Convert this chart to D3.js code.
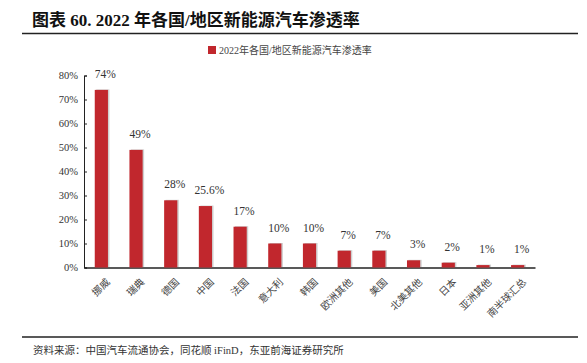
<!DOCTYPE html>
<html>
<head>
<meta charset="utf-8">
<script src="https://cdn.jsdelivr.net/npm/d3@7"></script>
<style>
  body { margin: 0; background: #fff; }
  svg { display: block; font-family: "Liberation Serif", "Noto Sans CJK SC", serif; }
</style>
</head>
<body>
<div id="chart"></div>
<script>
// 数据
const regions = ["挪威", "瑞典", "德国", "中国", "法国", "意大利", "韩国", "欧洲其他", "美国", "北美其他", "日本", "亚洲其他", "南半球汇总"];
const penetration = [74, 49, 28, 25.6, 17, 10, 10, 7, 7, 3, 2, 1, 1];
const valueLabels = ["74%", "49%", "28%", "25.6%", "17%", "10%", "10%", "7%", "7%", "3%", "2%", "1%", "1%"];
const yTicks = [0, 10, 20, 30, 40, 50, 60, 70, 80];

const W = 587, H = 363;
const red = "#c1272d";

const svg = d3.select("#chart").append("svg")
    .attr("width", W)
    .attr("height", H);

// 标题
svg.append("text")
    .attr("x", 32).attr("y", 26)
    .attr("font-size", 17).attr("font-weight", "bold")
    .attr("fill", "#111")
    .text("图表 60. 2022 年各国/地区新能源汽车渗透率");

svg.append("line")
    .attr("x1", 22).attr("x2", 578).attr("y1", 33.5).attr("y2", 33.5)
    .attr("stroke", "#222").attr("stroke-width", 1.5);

// 图例
svg.append("rect")
    .attr("x", 208).attr("y", 46).attr("width", 8).attr("height", 8)
    .attr("fill", red);
svg.append("text")
    .attr("x", 219).attr("y", 54)
    .attr("font-size", 10).attr("fill", "#444")
    .text("2022年各国/地区新能源汽车渗透率");

// 比例尺
const x = d3.scaleBand().domain(regions).range([84, 535]).paddingInner(0.62).paddingOuter(0.31);
const y = d3.scaleLinear().domain([0, 80]).range([267.5, 75.5]);

// 坐标轴
const yAxis = svg.append("g")
    .attr("transform", "translate(84,0)")
    .call(d3.axisLeft(y).tickValues(yTicks).tickSize(-3).tickPadding(6).tickFormat(d => d + "%"));
yAxis.select(".domain").attr("stroke", "#222");
yAxis.selectAll("line").attr("stroke", "#222");
yAxis.selectAll("text").attr("font-size", 10.5).attr("fill", "#333")
    .attr("font-family", "Liberation Serif");

const xAxis = svg.append("g")
    .attr("transform", "translate(0,267.5)")
    .call(d3.axisBottom(x).tickSize(0).tickSizeOuter(0));
xAxis.select(".domain").attr("stroke", "#222").attr("stroke-width", 1.5);
xAxis.selectAll("text")
    .attr("font-size", 10).attr("fill", "#444")
    .attr("font-family", "Noto Sans CJK SC")
    .attr("text-anchor", "end")
    .attr("dy", null)
    .attr("transform", "translate(7,13) rotate(-45)");

// 柱子（带浅灰阴影）
svg.append("g").selectAll("rect.shadow")
    .data(penetration)
    .join("rect")
    .attr("x", (d, i) => x(regions[i]) + 1.5)
    .attr("y", d => y(d) - 0.5)
    .attr("width", x.bandwidth())
    .attr("height", d => y(0) - y(d))
    .attr("fill", "#cfcfcf");

svg.append("g").selectAll("rect.bar")
    .data(penetration)
    .join("rect")
    .attr("x", (d, i) => x(regions[i]))
    .attr("y", d => y(d))
    .attr("width", x.bandwidth())
    .attr("height", d => y(0) - y(d))
    .attr("fill", red);

// 数值标签
svg.append("g").selectAll("text")
    .data(penetration)
    .join("text")
    .attr("x", (d, i) => x(regions[i]) + x.bandwidth() / 2 + 4)
    .attr("y", d => y(d) - 12)
    .attr("text-anchor", "middle")
    .attr("font-size", 11.5).attr("fill", "#333")
    .text((d, i) => valueLabels[i]);

// 底部来源
svg.append("line")
    .attr("x1", 22).attr("x2", 578).attr("y1", 337).attr("y2", 337)
    .attr("stroke", "#222").attr("stroke-width", 1.5);
svg.append("text")
    .attr("x", 33).attr("y", 354)
    .attr("font-size", 10.5).attr("fill", "#333")
    .text("资料来源：中国汽车流通协会，同花顺 iFinD，东亚前海证券研究所");
</script>
</body>
</html>
